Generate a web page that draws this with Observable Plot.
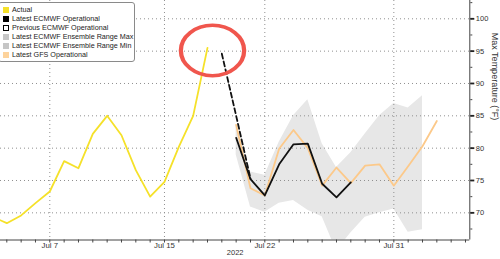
<!DOCTYPE html>
<html><head><meta charset="utf-8">
<script src="https://cdn.jsdelivr.net/npm/d3@7"></script>
<script src="https://cdn.jsdelivr.net/npm/@observablehq/plot@0.6"></script>
<style>
body{margin:0;background:#fff;}
#wrap{position:relative;width:500px;height:259px;font-family:"Liberation Sans",Arial,sans-serif;}
#legend{position:absolute;left:-2px;top:2px;width:137px;height:60px;background:#fff;border:1px solid #8a8a8a;border-radius:3px;box-sizing:border-box;padding:2px 0 0 4px;}
.item{display:flex;align-items:center;height:9px;font-size:7.2px;color:#222;white-space:nowrap;}
.sw{width:6px;height:6px;margin-right:3px;flex:none;box-sizing:border-box;}
</style></head><body><div id="wrap"><div id="legend"></div></div>
<script>
// ---- data ----
const actualDates = ["2022-07-03","2022-07-04","2022-07-05","2022-07-06","2022-07-07","2022-07-08","2022-07-09","2022-07-10","2022-07-11","2022-07-12","2022-07-13","2022-07-14","2022-07-15","2022-07-16","2022-07-17","2022-07-18"];
const actualValues = [69.4, 68.4, 69.6, 71.5, 73.3, 78.0, 76.9, 82.2, 85.0, 82.0, 76.6, 72.5, 74.8, 80.2, 85.0, 95.5];

const prevEcmwfDates = ["2022-07-19","2022-07-20","2022-07-21"];
const prevEcmwfValues = [94.6, 85.0, 75.3];

const ecmwfDates = ["2022-07-20","2022-07-21","2022-07-22","2022-07-23","2022-07-24","2022-07-25","2022-07-26","2022-07-27","2022-07-28"];
const ecmwfValues = [81.6, 75.2, 72.7, 77.5, 80.6, 80.7, 74.5, 72.4, 74.7];

const gfsDates = ["2022-07-20","2022-07-21","2022-07-22","2022-07-23","2022-07-24","2022-07-25","2022-07-26","2022-07-27","2022-07-28","2022-07-29","2022-07-30","2022-07-31","2022-08-01","2022-08-02","2022-08-03"];
const gfsValues = [83.6, 73.8, 72.7, 79.9, 82.8, 80.0, 74.2, 77.0, 74.6, 77.3, 77.5, 74.2, 77.2, 80.3, 84.2];

const ensDates = ["2022-07-20","2022-07-21","2022-07-22","2022-07-23","2022-07-24","2022-07-25","2022-07-26","2022-07-27","2022-07-28","2022-07-29","2022-07-30","2022-07-31","2022-08-01","2022-08-02"];
const ensMax = [83.6, 76.3, 75.8, 80.9, 85.0, 87.5, 80.7, 77.0, 79.3, 82.2, 85.0, 86.9, 86.2, 88.1];
const ensMin = [79.0, 70.9, 70.1, 71.5, 71.9, 70.4, 69.4, 64.1, 66.9, 69.3, 70.0, 70.6, 67.0, 67.4];

const xTickLabels = ["2022-07-07","2022-07-15","2022-07-22","2022-07-31"];
const yTickLabels = [70, 75, 80, 85, 90, 95, 100];
const yMinorTicks = [67.5, 70, 72.5, 75, 77.5, 80, 82.5, 85, 87.5, 90, 92.5, 95, 97.5, 100, 102.5];
const yearLabel = ["2022"];
const yTitle = ["Max Temperature (°F)"];
const highlight = [{date: "2022-07-18T08:24:00Z", value: 95.1}];

const legendItems = [
  {label: "Actual", color: "#f5e12a", kind: "fill"},
  {label: "Latest ECMWF Operational", color: "#000000", kind: "fill"},
  {label: "Previous ECMWF Operational", color: "#000000", kind: "dash"},
  {label: "Latest ECMWF Ensemble Range Max", color: "#c6c6c6", kind: "fill"},
  {label: "Latest ECMWF Ensemble Range Min", color: "#c6c6c6", kind: "fill"},
  {label: "Latest GFS Operational", color: "#fdd39c", kind: "fill"}
];

// ---- build ----
const parse = d3.isoParse;
const rows = (ds, vs) => ds.map((d, i) => ({date: parse(d), value: vs[i]}));
const actual = rows(actualDates, actualValues);
const prev = rows(prevEcmwfDates, prevEcmwfValues);
const ecmwf = rows(ecmwfDates, ecmwfValues);
const gfs = rows(gfsDates, gfsValues);
const ens = ensDates.map((d, i) => ({date: parse(d), max: ensMax[i], min: ensMin[i]}));
const labelDates = xTickLabels.map(parse);
const DAY = 864e5;
const xDomain = [new Date(+parse("2022-07-07") - 3.44 * DAY), new Date(+parse("2022-07-31") + 5.3 * DAY)];
const yDomain = [65.8, 102.83];
const dailyTicks = d3.utcDay.range(d3.utcDay.ceil(xDomain[0]), xDomain[1]);
const hl = highlight.map(d => ({date: parse(d.date), value: d.value}));
const dotted = {stroke: "#8f8f8f", strokeOpacity: 1, strokeDasharray: "1,3", strokeWidth: 1};

const chart = Plot.plot({
  width: 500, height: 259,
  marginLeft: 0, marginRight: 30.7, marginTop: 0, marginBottom: 19.5,
  style: {fontFamily: "'Liberation Sans', Arial, sans-serif", background: "#fff"},
  x: {type: "utc", domain: xDomain},
  y: {domain: yDomain},
  marks: [
    Plot.areaY(ens, {x: "date", y1: "min", y2: "max", fill: "#e7e7e7", clip: true}),
    Plot.gridY(yTickLabels, dotted),
    Plot.gridX(labelDates, dotted),
    Plot.line(actual, {x: "date", y: "value", stroke: "#f5e12a", strokeWidth: 1.8, clip: true}),
    Plot.line(gfs, {x: "date", y: "value", stroke: "#fcc98a", strokeWidth: 1.8, clip: true}),
    Plot.line(prev, {x: "date", y: "value", stroke: "#111", strokeWidth: 1.8, strokeDasharray: "5,3", clip: true}),
    Plot.line(ecmwf, {x: "date", y: "value", stroke: "#111", strokeWidth: 1.8, clip: true}),
    Plot.dot(hl, {x: "date", y: "value", r: 28, stroke: "#f0564d", strokeWidth: 3.8, fill: "none",
      render: (index, scales, values, dims, ctx, next) => {
        const g = next(index, scales, values, dims, ctx);
        d3.select(g).selectAll("circle")
          .style("transform-box", "fill-box").style("transform-origin", "center")
          .style("transform", "scale(1.13,0.9)");
        return g;
      }}),
    Plot.ruleX([xDomain[1]], {stroke: "#444", strokeWidth: 1}),
    Plot.ruleY([yDomain[0]], {stroke: "#444", strokeWidth: 1}),
    Plot.axisX({ticks: dailyTicks, tickSize: 3, tickFormat: () => "", stroke: "#444", label: null}),
    Plot.axisX({ticks: labelDates, tickSize: 0, tickPadding: 2.5, tickFormat: d3.utcFormat("%b %-d"), fontSize: 7.8, fill: "#333", label: null}),
    Plot.axisY({anchor: "right", ticks: yMinorTicks, tickSize: 2, tickFormat: () => "", stroke: "#444", label: null}),
    Plot.axisY({anchor: "right", ticks: yTickLabels, tickSize: 4, tickPadding: 2, strokeWidth: 1.8, stroke: "#222", fontSize: 7.5, fill: "#333", label: null}),
    Plot.text(yTitle, {frameAnchor: "right", dx: 25, rotate: 90, fontSize: 9, fill: "#333"}),
    Plot.text(yearLabel, {frameAnchor: "bottom", dy: 15, fontSize: 7.5, fill: "#333"})
  ]
});
const wrap = document.getElementById("wrap");
wrap.insertBefore(chart, wrap.firstChild);

const legend = d3.select("#legend");
for (const it of legendItems) {
  const row = legend.append("div").attr("class", "item");
  const sw = row.append("div").attr("class", "sw");
  if (it.kind === "fill") sw.style("background", it.color);
  else sw.style("border", "1px dashed " + it.color).style("background", "#fff");
  row.append("span").text(it.label);
}
</script></body></html>
